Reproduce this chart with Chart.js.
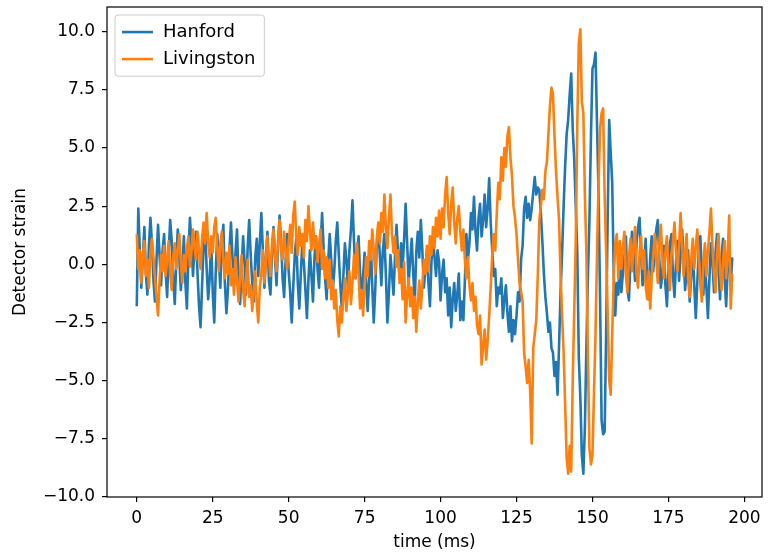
<!DOCTYPE html>
<html>
<head>
<meta charset="utf-8">
<title>Detector strain</title>
<script src="https://cdn.jsdelivr.net/npm/chart.js@4.4.1/dist/chart.umd.min.js"></script>
<style>
  html, body { margin: 0; padding: 0; background: #fff; }
  #wrap { width: 768px; height: 553px; }
</style>
</head>
<body>
<div id="wrap"><canvas id="strainChart" width="768" height="553"></canvas></div>
<script>
// ── Data (one sample every 0.5 ms from 0 to 196 ms) ──
const sampleMs = 0.5;

const hanford = [
  -1.8, 2.4, 0.6, -1.0, 0.3, 1.6, -0.4, -1.3, 0.8, 2.0,      // 0
  0.9, -0.7, -1.6, 0.2, 1.7, 0.4, -0.9, 0.6, 1.3, -0.3,      // 5
  -1.4, 0.5, 1.9, 1.0, -0.6, -1.7, 0.1, 1.5, 0.3, -1.1,      // 10
  -0.2, 1.2, -0.8, -1.9, 0.4, 2.0, 0.9, -0.5, 0.7, 1.4,      // 15
  -0.4, -1.8, -2.7, -0.9, 0.8, 1.6, -0.2, -1.5, -0.6, 1.0,   // 20
  -1.2, -2.5, -0.3, 1.3, 0.2, -1.0, 0.9, 1.7, -0.8, -2.1,    // 25
  -1.1, 0.6, 1.8, 0.3, -0.9, 0.5, 1.5, -0.6, -1.7, -0.2,     // 30
  1.2, 0.1, -1.3, 0.7, 1.9, 0.4, -0.8, -1.6, 0.3, 1.1,       // 35
  -0.5, 0.9, 2.2, 0.6, -1.0, 0.2, 1.4, -0.7, -1.3, 0.5,      // 40
  1.6, 0.3, -0.9, 0.8, 2.1, 1.0, -0.6, -1.4, 0.2, 1.3,       // 45
  -0.3, -1.2, -2.5, -1.0, 0.4, 1.1, -0.8, -1.9, -0.4, 0.9,   // 50
  0.1, -1.1, -2.3, -0.7, 0.6, -0.5, -1.6, 0.3, 1.2, -0.2,    // 55
  -1.0, 0.8, 2.2, 0.7, -0.6, -1.5, 0.1, 1.3, 0.2, -1.2,      // 60
  -0.3, 1.0, 1.8, 0.4, -0.9, -1.9, -0.5, 0.9, 0.2, -1.0,     // 65
  0.6, 1.5, 2.75, 1.0, -0.6, 0.3, 1.2, -0.4, -1.5, -0.5,     // 70
  0.5, -0.8, -2.0, -0.6, 1.0, -0.9, -2.5, -1.1, 0.8, 1.6,    // 75
  0.4, -0.9, 0.6, 1.3, -0.5, -2.5, -1.2, 0.4, -0.4, -1.3,    // 80
  0.3, 1.7, 0.5, -0.6, 0.9, -0.2, 1.1, 2.6, 0.9, -0.8,       // 85
  0.2, 1.1, -0.4, -1.6, 0.5, 1.4, 0.3, 1.9, 0.6, -1.0,       // 90
  -0.2, 0.6, -0.8, -1.8, 0.1, 1.2, 0.3, -0.5, 0.6, 0.1,      // 95
  -1.55, -0.4, 0.2, -1.2, -0.6, -2.2, -1.0, -2.7, -1.5, -0.8, // 100
  -2.0, -1.3, -0.4, -2.4, -1.6, -2.4, -0.7, 1.3, 0.2, 0.9,   // 105
  2.2, 1.5, 2.9, 1.4, 0.6, 2.0, 2.6, 1.2, 1.9, 3.0,          // 110
  1.6, 2.4, 3.7, 1.8, 0.6, -0.5, -0.2, -1.8, -1.0, -1.25,    // 115
  -0.6, -2.3, -1.5, -0.9, -2.1, -2.9, -1.8, -3.3, -2.4, -3.0, // 120
  -2.2, -1.2, -1.6, 0.2, 0.8, 2.4, 2.9, 2.0, 2.6, 1.9,       // 125
  2.4, 3.1, 3.75, 3.0, 3.3, 3.2, 2.2, 1.0, -0.4, -1.4,       // 130
  -2.1, -2.9, -2.5, -3.6, -3.8, -4.8, -4.2, -5.6, -3.5, -1.2, // 135
  0.5, 2.5, 4.2, 5.6, 6.2, 7.3, 8.2, 5.8, 4.5, 2.5,          // 140
  0.5, -4.0, -5.7, -8.2, -9.0, -7.0, -3.5, -0.5, 1.9, 5.5,   // 145
  8.4, 8.6, 9.1, 6.0, 3.0, -1.5, -6.7, -7.3, -7.2, -3.0,     // 150
  2.0, 6.2, 4.8, 3.5, -0.5, -2.2, -0.8, -1.3, 0.3, -1.2,     // 155
  -0.4, 0.8, 1.2, -1.1, -1.55, 0.2, 1.4, 0.5, -0.7, 0.9,     // 160
  1.6, 2.0, 0.4, -0.9, -0.2, 1.1, -0.6, -1.5, 0.3, 1.2,      // 165
  -0.3, 0.7, 1.5, 1.9, 0.2, -1.0, -0.4, 0.8, -0.9, -1.8,     // 170
  -0.2, 0.9, 1.3, -0.5, -1.4, 0.1, 1.0, -0.7, 0.4, 1.5,      // 175
  0.3, -1.1, -0.2, 0.6, -1.6, -0.5, 0.8, -0.9, -2.3, -0.8,   // 180
  0.6, 1.2, -0.4, -1.3, 0.2, -1.0, -2.3, -0.6, 0.9, 0.1,     // 185
  -1.2, 0.5, 1.3, -0.3, -1.5, 0.4, 1.1, -0.6, -1.8, -0.2,    // 190
  0.7, -0.9, 0.3                                              // 195
];

const livingston = [
  1.3, -0.2, 0.6, -0.8, 0.4, 1.0, -0.5, 0.2, -1.0, 0.5,      // 0
  1.1, 0.3, -0.6, -1.4, -2.2, -0.7, 0.4, -0.3, 0.8, -0.5,    // 5
  0.2, 1.0, -0.4, -1.1, 0.3, 0.9, -0.2, 0.6, 1.3, 0.1,       // 10
  -0.8, 0.4, -0.3, 0.7, 1.2, -0.1, 0.5, 1.5, 0.8, 0.2,       // 15
  1.4, 0.6, -0.2, 1.1, 1.8, 0.9, 2.2, 1.0, 0.3, 1.2,         // 20
  0.5, 1.6, 2.0, 0.7, -0.3, 0.9, 1.4, 0.2, -0.6, 0.5,        // 25
  -0.4, 0.8, -0.9, -0.2, -1.3, 0.3, -0.7, -1.6, -0.5, 0.4,   // 30
  -1.1, -1.8, -0.6, 0.2, -1.4, -0.9, -2.0, -1.2, -0.3, -1.7, // 35
  -2.5, -1.0, -0.4, 0.6, -0.8, 0.1, 1.2, 0.3, -0.5, 0.8,     // 40
  1.5, 0.4, -0.3, 1.0, 1.9, 0.7, 0.2, 1.4, 0.6, -0.2,        // 45
  0.9, 1.7, 0.5, 2.1, 2.7, 1.2, 0.4, 1.6, 0.8, 1.3,          // 50
  0.3, 1.9, 1.0, 2.5, 1.4, 0.6, 1.8, 0.7, 1.2, 0.1,          // 55
  0.8, 1.5, -0.2, 0.6, -0.6, 0.3, -1.0, 0.2, -1.5, -0.7,     // 60
  -1.9, -1.1, -2.4, -3.1, -1.8, -2.5, -1.4, -0.6, -2.0, -1.2, // 65
  -0.3, -1.7, -0.8, 0.4, -0.6, 0.9, -0.4, -1.9, -1.1, -2.2,  // 70
  -0.9, 0.3, -0.5, 1.0, 0.2, 1.5, 0.6, -0.4, 1.1, 1.8,       // 75
  0.9, 2.2, 1.4, 3.0, 1.6, 0.7, 2.0, 3.0, 1.3, 0.5,          // 80
  1.2, -0.1, 0.6, -0.8, -0.2, -1.5, 0.1, -2.5, -1.3, -0.6,   // 85
  -1.8, -1.0, -2.3, -1.4, -2.9, -1.6, -0.7, -1.9, -0.9, 0.2, // 90
  -0.4, 0.8, -0.3, 1.2, 0.4, 1.6, 0.7, 2.0, 1.2, 2.3,        // 95
  1.1, 2.4, 1.6, 3.0, 3.75, 2.2, 1.3, 2.6, 3.3, 1.8,         // 100
  0.9, 2.0, 2.5, 1.4, 0.6, 1.5, 0.2, -0.6, 0.3, -0.9,        // 105
  -1.55, -0.8, -2.0, -1.4, -2.6, -3.0, -2.2, -4.3, -3.5, -2.8, // 110
  -4.1, -3.3, -2.2, -1.0, 0.4, 1.3, 0.6, 2.2, 3.5, 2.8,      // 115
  4.6, 3.6, 5.0, 4.2, 5.5, 5.9, 4.6, 3.8, 2.5, 2.0,          // 120
  1.3, 0.2, -0.8, -1.2, -1.6, -3.8, -4.4, -5.1, -4.1, -5.5,  // 125
  -7.7, -3.6, -3.0, -2.4, -0.5, 1.9, 2.5, 3.2, 2.8, 4.0,     // 130
  4.4, 5.6, 6.8, 7.6, 7.3, 5.5, 4.0, 2.9, 1.9, -0.5,         // 135
  -2.2, -3.8, -6.0, -8.3, -9.0, -7.8, -8.9, -5.0, -2.0, 1.0, // 140
  6.0, 9.5, 10.1, 7.0, 6.5, 3.0, 0.5, -4.0, -7.9, -8.6,      // 145
  -8.2, -5.5, -3.0, 0.5, 3.5, 5.8, 6.5, 6.7, 3.0, 0.5,       // 150
  -2.1, -5.0, -5.6, -3.0, -0.5, 0.9, 1.3, -0.6, 1.0, -0.2,   // 155
  0.7, 1.4, -0.5, -1.2, 0.3, 1.1, -0.3, 0.8, 1.6, -0.4,      // 160
  -1.0, 0.5, 1.2, -0.2, 0.6, -0.9, -1.5, -0.3, -1.9, -0.6,   // 165
  0.4, 1.3, 0.2, -0.8, 0.9, 1.7, 0.3, -0.6, 0.5, 1.2,        // 170
  -0.1, -1.1, 0.4, 1.0, 1.8, 0.5, -0.3, 0.8, 2.2, 0.9,       // 175
  -0.5, 0.4, 1.3, -0.7, -1.4, 0.2, 1.1, -0.2, 0.7, 1.5,      // 180
  0.3, -0.9, -1.6, 0.1, 0.9, -0.5, 0.6, 1.4, 2.4, 0.8,       // 185
  -0.4, -1.2, 0.5, 1.3, -0.3, -1.1, 0.2, 1.0, -0.6, 0.4,     // 190
  2.1, -1.9, -0.4                                             // 195
];

const xTicks = [0, 25, 50, 75, 100, 125, 150, 175, 200];
const yTicks = [-10, -7.5, -5, -2.5, 0, 2.5, 5, 7.5, 10];

// ── Helpers ──────────────────────────────────────────────────────────────────
const FONT = 'DejaVu Sans';
const FS = 17;

function toPoints(values) {
    return values.map((v, i) => ({ x: i * sampleMs, y: v }));
}

function mplNumber(v, digits) {
    const s = Math.abs(v).toFixed(digits);
    return v < 0 ? '\u2212' + s : s;
}

// drop the label half-height padding Chart.js reserves at the axis ends
function noEdgePadding(s) {
    s.paddingTop = 0; s.paddingBottom = 0;
    s.paddingLeft = 0; s.paddingRight = 0;
}

// axes frame (all four spines)
const frame = {
    id: 'frame',
    afterDatasetsDraw(chart) {
        const { ctx, chartArea: a } = chart;
        ctx.save();
        ctx.strokeStyle = '#000';
        ctx.lineWidth = 1.2;
        ctx.strokeRect(a.left, a.top, a.right - a.left, a.bottom - a.top);
        ctx.restore();
    }
};

// matplotlib-like legend box, upper left
const mplLegend = {
    id: 'mplLegend',
    afterDraw(chart) {
        const { ctx, chartArea: a } = chart;
        const sets = chart.data.datasets;
        const lfs = 18;
        ctx.save();
        ctx.font = lfs + 'px "' + FONT + '"';
        const textW = Math.max(...sets.map(d => ctx.measureText(d.label).width));
        const pad = 7, handle = 31, gap = 10, rowH = 27;
        const x = a.left + 8, y = a.top + 8;
        const w = pad * 2 + handle + gap + textW + 2;
        const h = pad * 2 + lfs * 1.12 + rowH * (sets.length - 1);

        ctx.beginPath();
        ctx.roundRect(x, y, w, h, 3);
        ctx.fillStyle = 'rgba(255,255,255,0.8)';
        ctx.fill();
        ctx.strokeStyle = '#cccccc';
        ctx.lineWidth = 1;
        ctx.stroke();

        sets.forEach((d, i) => {
            const cy = y + pad + lfs * 0.56 + i * rowH;
            ctx.beginPath();
            ctx.moveTo(x + pad, cy);
            ctx.lineTo(x + pad + handle, cy);
            ctx.strokeStyle = d.borderColor;
            ctx.lineWidth = 2.6;
            ctx.stroke();
            ctx.fillStyle = '#000';
            ctx.textBaseline = 'middle';
            ctx.fillText(d.label, x + pad + handle + gap, cy);
        });
        ctx.restore();
    }
};

// ── Chart ────────────────────────────────────────────────────────────────────
Chart.defaults.font.family = FONT;
Chart.defaults.font.size = FS;
Chart.defaults.color = '#000';

new Chart(document.getElementById('strainChart').getContext('2d'), {
    type: 'line',
    data: {
        datasets: [{
            label: 'Hanford',
            data: toPoints(hanford),
            borderColor: '#1f77b4',
            borderWidth: 2.6,
            order: 2,
        }, {
            label: 'Livingston',
            data: toPoints(livingston),
            borderColor: '#ff7f0e',
            borderWidth: 2.6,
            order: 1,
        }]
    },
    options: {
        responsive: false,
        animation: false,
        devicePixelRatio: 1,
        layout: { padding: { top: 7, right: 6, left: 0, bottom: 0 } },
        elements: {
            point: { radius: 0 },
            line: { tension: 0, borderJoinStyle: 'round', fill: false }
        },
        plugins: { legend: { display: false }, tooltip: { enabled: false } },
        scales: {
            x: {
                type: 'linear',
                min: -9.8,
                max: 205.8,
                afterFit: s => { s.height = 56; noEdgePadding(s); },
                afterBuildTicks: s => { s.ticks = xTicks.map(v => ({ value: v })); },
                ticks: { padding: 6, maxRotation: 0, autoSkip: false, callback: v => String(v) },
                grid: { drawOnChartArea: false, tickLength: 5, color: '#000', lineWidth: 1.2 },
                border: { display: false },
                title: { display: true, text: 'time (ms)', padding: { top: 0, bottom: 0 } }
            },
            y: {
                type: 'linear',
                min: -10,
                max: 11.06,
                afterFit: s => { s.width = 107; noEdgePadding(s); },
                afterBuildTicks: s => { s.ticks = yTicks.map(v => ({ value: v })); },
                ticks: { padding: 7, autoSkip: false, callback: v => mplNumber(v, 1) },
                grid: { drawOnChartArea: false, tickLength: 5, color: '#000', lineWidth: 1.2 },
                border: { display: false },
                title: { display: true, text: 'Detector strain', padding: { top: 10, bottom: 0 } }
            }
        }
    },
    plugins: [frame, mplLegend]
});
</script>
</body>
</html>
